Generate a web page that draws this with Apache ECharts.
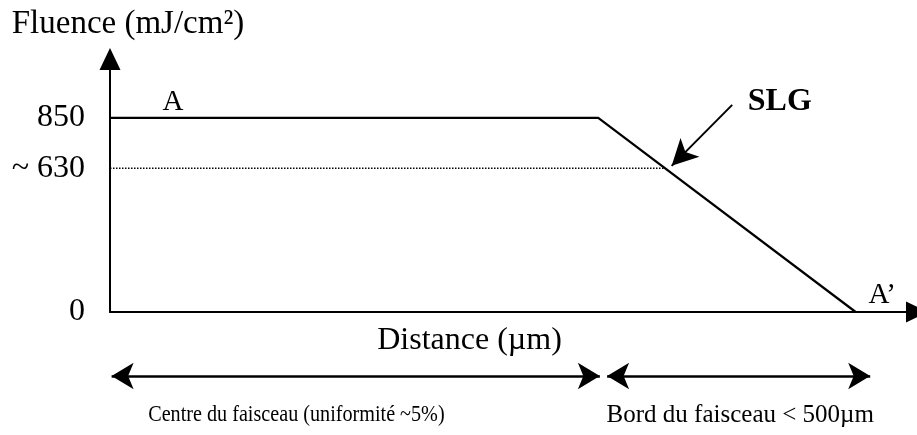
<!DOCTYPE html>
<html>
<head>
<meta charset="utf-8">
<script src="https://cdn.jsdelivr.net/npm/echarts@6/dist/echarts.min.js"></script>
<style>
  html, body { margin: 0; padding: 0; background: #fff; }
  #chart { width: 917px; height: 435px; }
</style>
</head>
<body>
<div id="chart"></div>
<script>
// Fluence profile of the beam along the distance axis (relative distance units)
const profileX = [0, 605, 924];
const profileY = [850, 850, 0];

// Threshold level (~630 mJ/cm²) meeting the edge slope
const levelX = [0, 688];
const levelY = [630, 630];

// Y-axis ticks
const yTickValues = [0, 630, 850];
const yTickLabels = ['0', '~ 630', '850'];

// SLG pointer: from the label down to the slope
const slgArrowX = [771, 696];
const slgArrowY = [907, 640];
const slgLabel = { name: 'SLG', x: 830, y: 920 };

// Point names on the profile
const pointNames = ['A', 'A\u2019'];
const pointX = [78, 957];
const pointY = [920, 74];

// Beam regions drawn under the distance axis
const regionNames = ['Centre du faisceau (uniformité ~5%)', 'Bord du faisceau < 500µm'];
const regionStart = [2, 616];
const regionEnd = [607, 942];
const regionLabelX = [231, 781];

const FONT = "'Liberation Serif', 'Times New Roman', serif";
const BLACK = '#000';
// Region captions: the long one is set slightly condensed
const regionTextStyle = [
  { size: 24, scaleX: 0.84 },
  { size: 25, scaleX: 1 }
];

const chart = echarts.init(document.getElementById('chart'), null, { renderer: 'canvas' });

const textLabel = (size, weight) => ({
  show: true, position: 'inside',
  formatter: '{b}',
  fontFamily: FONT, fontSize: size, fontWeight: weight || 'normal',
  color: BLACK, opacity: 1
});

const option = {
  animation: false,
  backgroundColor: '#fff',
  grid: [
    { left: 110, right: 0, top: 59, bottom: 123 },
    { left: 110, right: 0, top: 366, height: 60 }
  ],
  xAxis: [
    {
      type: 'value', gridIndex: 0, min: 0, max: 1000,
      axisLine: {
        show: true, onZero: false,
        symbol: ['none', 'triangle'], symbolSize: [21, 22],
        lineStyle: { color: BLACK, width: 2 }
      },
      axisTick: { show: false },
      axisLabel: { show: false },
      splitLine: { show: false },
      name: 'Distance (µm)',
      nameLocation: 'middle',
      nameGap: 13,
      nameTextStyle: {
        fontFamily: FONT, fontSize: 32, color: BLACK,
        verticalAlign: 'top', padding: [0, 88, 0, 0]
      }
    },
    { type: 'value', gridIndex: 1, min: 0, max: 1000, show: false }
  ],
  yAxis: [
    {
      type: 'value', gridIndex: 0, min: 0, max: 1108,
      axisLine: {
        show: true, onZero: false,
        symbol: ['none', 'triangle'], symbolSize: [21, 22],
        lineStyle: { color: BLACK, width: 2 }
      },
      axisTick: { show: false },
      splitLine: { show: false },
      axisLabel: {
        customValues: yTickValues,
        formatter: function (v) { return yTickLabels[yTickValues.indexOf(v)]; },
        fontFamily: FONT, fontSize: 32, color: BLACK, margin: 25
      },
      name: 'Fluence (mJ/cm²)',
      nameLocation: 'end',
      nameGap: 18,
      nameTextStyle: {
        fontFamily: FONT, fontSize: 33, color: BLACK,
        padding: [0, 0, 0, 36]
      }
    },
    { type: 'value', gridIndex: 1, min: 0, max: 3, show: false }
  ],
  series: [
    {
      name: 'Fluence',
      type: 'line',
      xAxisIndex: 0, yAxisIndex: 0,
      data: profileX.map((x, i) => [x, profileY[i]]),
      symbol: 'none',
      lineStyle: { color: BLACK, width: 2.2 },
      markLine: {
        silent: true,
        symbol: ['none', 'arrow'],
        symbolSize: [20, 26],
        label: { show: false },
        lineStyle: { color: BLACK, width: 2, type: 'solid' },
        data: [[
          { coord: [slgArrowX[0], slgArrowY[0]] },
          { coord: [slgArrowX[1], slgArrowY[1]] }
        ]]
      }
    },
    {
      name: 'Seuil',
      type: 'line',
      xAxisIndex: 0, yAxisIndex: 0,
      data: levelX.map((x, i) => [x, levelY[i]]),
      symbol: 'none',
      lineStyle: { color: BLACK, width: 1.5, type: 'dotted' }
    },
    {
      name: 'Points',
      type: 'scatter',
      xAxisIndex: 0, yAxisIndex: 0,
      clip: false,
      symbolSize: 0,
      silent: true,
      itemStyle: { opacity: 1 },
      data: pointNames.map((n, i) => ({ name: n, value: [pointX[i], pointY[i]] })),
      label: textLabel(29)
    },
    {
      name: 'SLG',
      type: 'scatter',
      xAxisIndex: 0, yAxisIndex: 0,
      clip: false,
      symbolSize: 0,
      silent: true,
      itemStyle: { opacity: 1 },
      data: [{ name: slgLabel.name, value: [slgLabel.x, slgLabel.y] }],
      label: textLabel(32, 'bold')
    },
    {
      name: 'Zones',
      type: 'custom',
      xAxisIndex: 1, yAxisIndex: 1,
      coordinateSystem: 'cartesian2d',
      clip: false,
      silent: true,
      data: regionNames.map((n, i) => [regionLabelX[i], 0.55]),
      renderItem: function (params, api) {
        const i = params.dataIndex;
        const pt = api.coord([api.value(0), api.value(1)]);
        const st = regionTextStyle[i];
        return {
          type: 'text',
          x: pt[0], y: pt[1],
          scaleX: st.scaleX,
          style: {
            text: regionNames[i],
            fontFamily: FONT, fontSize: st.size,
            fill: BLACK,
            align: 'center', verticalAlign: 'middle'
          }
        };
      },
      markLine: {
        silent: true,
        symbol: ['arrow', 'arrow'],
        symbolSize: [20, 22],
        label: { show: false },
        lineStyle: { color: BLACK, width: 2.5, type: 'solid' },
        data: regionNames.map((n, i) => [
          { coord: [regionStart[i], 2.5] },
          { coord: [regionEnd[i], 2.5] }
        ])
      }
    }
  ]
};

chart.setOption(option);
</script>
</body>
</html>
